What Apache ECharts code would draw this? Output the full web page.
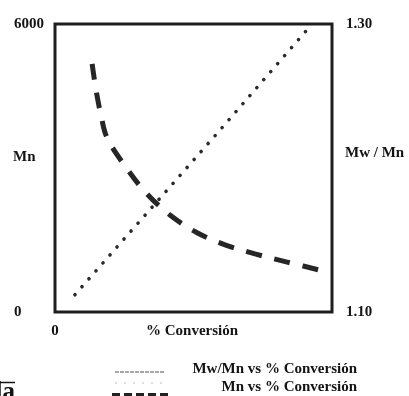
<!DOCTYPE html>
<html>
<head>
<meta charset="utf-8">
<script src="https://cdn.jsdelivr.net/npm/echarts@6/dist/echarts.min.js"></script>
<style>
html,body{margin:0;padding:0;background:#fff;}
#c{width:409px;height:396px;}
</style>
</head>
<body>
<div id="c"></div>
<script>
// Mw/Mn vs % Conversión (dotted, right axis)
const conversionMwMn = [7.2, 58.5, 92.8];
const mwmnValues = [1.112, 1.224, 1.300];
// Mn vs % Conversión (dashed, left axis)
const conversionMn = [13.4, 14.8, 16.6, 18.8, 25.3, 32.9, 41.5, 51.3, 61.4, 72.2, 83.8, 98.6];
const mnValues = [5170, 4630, 4100, 3630, 3040, 2480, 2020, 1650, 1400, 1210, 1040, 830];
// tick labels
const leftTickLabels = ['0', '6000'];
const rightTickLabels = ['1.10', '1.30'];
const xTickLabels = ['0'];
const axisTitles = ['% Conversión', 'Mn', 'Mw / Mn'];
const legendNames = ['Mw/Mn vs % Conversión', 'Mn vs % Conversión'];

const FONT = 'Liberation Serif';
const INK = '#141414';

const chart = echarts.init(document.getElementById('c'), null, {renderer: 'canvas'});
const labelStyle = {fontFamily: FONT, fontWeight: 'bold', fontSize: 15, color: INK};
const f15 = 'bold 15px "Liberation Serif"';

chart.setOption({
  animation: false,
  backgroundColor: '#fff',
  grid: {left: 55, right: 77, top: 24, bottom: 84, show: true, borderColor: '#1e1e1e', borderWidth: 3},
  xAxis: {
    type: 'value', min: 0, max: 100, interval: 100,
    axisLine: {show: false}, axisTick: {show: false}, splitLine: {show: false},
    axisLabel: Object.assign({}, labelStyle, {margin: 12, formatter: v => v === 0 ? xTickLabels[0] : ''})
  },
  yAxis: [
    {
      type: 'value', position: 'left', min: 0, max: 6000, interval: 6000,
      axisLine: {show: false}, axisTick: {show: false}, splitLine: {show: false},
      axisLabel: Object.assign({}, labelStyle, {align: 'left', margin: 41,
        formatter: v => v === 0 ? leftTickLabels[0] : leftTickLabels[1]})
    },
    {
      type: 'value', position: 'right', min: 1.1, max: 1.3, interval: 0.1,
      axisLine: {show: false}, axisTick: {show: false}, splitLine: {show: false},
      axisLabel: Object.assign({}, labelStyle, {align: 'left', margin: 14,
        formatter: v => Math.abs(v - 1.1) < 1e-6 ? rightTickLabels[0] : (Math.abs(v - 1.3) < 1e-6 ? rightTickLabels[1] : '')})
    }
  ],
  series: [
    {
      name: legendNames[0], type: 'line', yAxisIndex: 1, showSymbol: false, silent: true,
      data: conversionMwMn.map((x, i) => [x, mwmnValues[i]]),
      lineStyle: {color: '#2a2a2a', width: 3.6, type: [0.1, 10.5], cap: 'round'}
    },
    {
      name: legendNames[1], type: 'line', yAxisIndex: 0, showSymbol: false, silent: true, smooth: 0.35,
      data: conversionMn.map((x, i) => [x, mnValues[i]]),
      lineStyle: {color: '#262626', width: 5, type: [16, 13], cap: 'butt'}
    }
  ],
  graphic: [
    {type: 'text', x: 192, y: 331, style: {text: axisTitles[0], font: f15, fill: INK, align: 'center', verticalAlign: 'middle'}},
    {type: 'text', left: 13, top: 150, style: {text: axisTitles[1], font: f15, fill: INK}},
    {type: 'text', left: 345, top: 146, style: {text: axisTitles[2], font: f15, fill: INK}},
    // legend fragment
    {type: 'text', x: 357, y: 369, style: {text: legendNames[0], font: f15, fill: INK, align: 'right', verticalAlign: 'middle'}},
    {type: 'text', x: 357, y: 387, style: {text: legendNames[1], font: f15, fill: INK, align: 'right', verticalAlign: 'middle'}},
    {type: 'line', shape: {x1: 115, y1: 372, x2: 165, y2: 372}, style: {stroke: '#8a8a8a', lineWidth: 1.5, lineDash: [4, 1]}},
    {type: 'line', shape: {x1: 115, y1: 383, x2: 165, y2: 383}, style: {stroke: '#d4d4d4', lineWidth: 1.5, lineDash: [2, 7]}},
    {type: 'line', shape: {x1: 112, y1: 396, x2: 170, y2: 396}, style: {stroke: '#222', lineWidth: 6, lineDash: [8, 4]}},
    // cropped title fragment
    {type: 'text', x: 15, y: 380, style: {text: 'la', font: 'bold 25px "Liberation Serif"', fill: INK, align: 'right', verticalAlign: 'alphabetic'}},
    {type: 'line', shape: {x1: 0, y1: 382.5, x2: 15, y2: 382.5}, style: {stroke: INK, lineWidth: 1.5}}
  ]
});
</script>
</body>
</html>
